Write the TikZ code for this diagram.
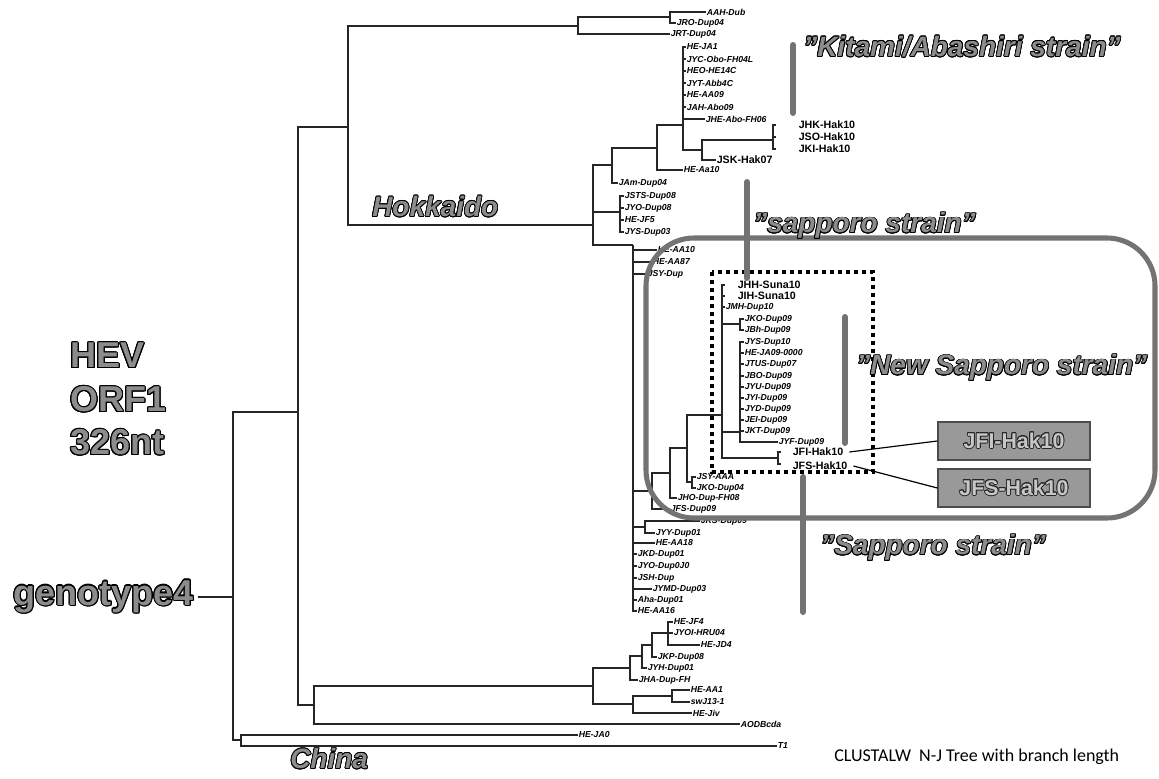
\documentclass[tikz,border=0pt]{standalone}
\usepackage{fontspec}
\setmainfont{Liberation Sans}
\newfontfamily\carlitofont{Carlito}
\usepackage{contour}
\contourlength{0.7pt}
\newcommand{\dq}{\char34\relax}
\newcommand{\tleaf}[5]{\node[#1] (#3) at (#4) {#5}; \draw[br] (#2) |- (#3.west);}
\newcommand{\tedge}[2]{\draw[br] (#1) |- (#2);}
\begin{document}
\begin{tikzpicture}[x=0.75pt,y=-0.75pt,
  br/.style={line width=1.1pt, draw=black!85},
  lf/.style={anchor=west, inner sep=0.4pt, font=\fontsize{6.5}{6.5}\selectfont\bfseries\itshape},
  hk/.style={anchor=west, inner sep=0.4pt, font=\fontsize{8}{8}\selectfont\bfseries},
  big/.style={anchor=west, inner sep=0pt, text=black!45, font=\fontsize{27}{27}\selectfont\bfseries\contourlength{0.8pt}},
  strain/.style={anchor=west, inner sep=0pt, text=black!45, font=\fontsize{21}{21}\selectfont\bfseries\itshape\contourlength{0.6pt}},
  gbar/.style={line width=4.5pt, draw=black!55, line cap=round},
  dotbox/.style={draw=black, line width=3pt, dash pattern=on 3pt off 3pt},
  rbox/.style={draw=black!55, line width=3.8pt, rounded corners=36pt},
  gbox/.style={draw=black!70, fill=black!40, line width=1pt, minimum width=114pt, minimum height=28.5pt, inner sep=0pt, text=black!22, font=\fontsize{16}{16}\selectfont\bfseries\contourlength{0.6pt}},
  conn/.style={line width=0.9pt, draw=black}]
\useasboundingbox (0,0) rectangle (1159,778);

% ---------- big labels ----------
\node[big] (hev) at (70,356) {\contour{black}{HEV}};
\node[big] (orf) at (70,400) {\contour{black}{ORF1}};
\node[big] (nt) at (70,443) {\contour{black}{326nt}};
\node[big, anchor=east, inner sep=3pt] (g4) at (198,597) {\contour{black}{genotype4}};
\node[strain] (hok) at (372,207) {\contour{black}{Hokkaido}};
\node[strain] (chi) at (290,759) {\contour{black}{China}};

% ---------- internal nodes ----------
\coordinate (R0) at (233,597);
\coordinate (N298) at (298,412);
\coordinate (Nb) at (241,740);
\coordinate (Hk) at (348,127);
\coordinate (N314) at (314,705);
\coordinate (Tp) at (578,26);
\coordinate (Tp2) at (670,17);
\coordinate (H1) at (593,225);
\coordinate (K0) at (612,165);
\coordinate (K1) at (657,148);
\coordinate (K2) at (683,125);
\coordinate (K3) at (702,150);
\coordinate (K4) at (773,140);
\coordinate (J0) at (620,212);
\coordinate (S) at (633,245);
\coordinate (Q) at (652,491);
\coordinate (R) at (670,473);
\coordinate (P) at (687,448);
\coordinate (U) at (692,482);
\coordinate (T) at (722,415);
\coordinate (Ta) at (740,324);
\coordinate (Tb) at (740,432);
\coordinate (Tc) at (778,458);
\coordinate (V) at (645,527);
\coordinate (C0) at (593,686);
\coordinate (B) at (630,668);
\coordinate (E) at (642,656);
\coordinate (F) at (652,645);
\coordinate (G) at (668,633);
\coordinate (Cc) at (633,704);
\coordinate (D) at (672,696);

\draw[br] (g4.east) -- (R0);
\tedge{R0}{N298} \tedge{R0}{Nb}
\tedge{N298}{Hk} \tedge{N298}{N314}
\tedge{Hk}{Tp} \tedge{Hk}{H1} \tedge{Tp}{Tp2}
\tedge{H1}{K0} \tedge{H1}{J0} \tedge{H1}{S}
\tedge{K0}{K1} \tedge{K1}{K2} \tedge{K2}{K3} \tedge{K3}{K4}
\tedge{S}{Q} \tedge{Q}{R} \tedge{R}{P} \tedge{P}{T} \tedge{P}{U}
\tedge{T}{Ta} \tedge{T}{Tb} \tedge{T}{Tc} \tedge{S}{V}
\tedge{N314}{C0} \tedge{C0}{B} \tedge{C0}{Cc} \tedge{B}{E} \tedge{E}{F} \tedge{F}{G} \tedge{Cc}{D}

% ---------- leaves ----------
\tleaf{lf}{Nb}{la1}{578,735}{HE-JA0}
\tleaf{lf}{Nb}{la2}{777,746}{T1}
\tleaf{lf}{Tp2}{lb1}{706,12}{AAH-Dub}
\tleaf{lf}{Tp2}{lb2}{676,23}{JRO-Dup04}
\tleaf{lf}{Tp}{lb3}{670,34}{JRT-Dup04}
\foreach \y/\t [count=\i] in {47/HE-JA1,59/JYC-Obo-FH04L,71/HEO-HE14C,83/JYT-Abb4C,95/HE-AA09,107/JAH-Abo09}
  {\tleaf{lf}{K2}{kk\i}{686,\y}{\t}}
\tleaf{lf}{K2}{kk7}{705,119}{JHE-Abo-FH06}
\tleaf{lf}{K1}{kk8}{683,170}{HE-Aa10}
\tleaf{lf}{K0}{kk9}{618,183}{JAm-Dup04}
\tleaf{hk}{K3}{jsk}{716,160}{JSK-Hak07}
\foreach \y [count=\i] in {125,137,149} {\coordinate (k4e\i) at (776,\y); \draw[br] (K4) |- (k4e\i);}
\node[hk] (jhk) at (798,125) {JHK-Hak10};
\node[hk] (jso) at (798,137) {JSO-Hak10};
\node[hk] (jki) at (798,149) {JKI-Hak10};
\foreach \y/\t [count=\i] in {196/JSTS-Dup08,208/JYO-Dup08,220/HE-JF5,232/JYS-Dup03}
  {\tleaf{lf}{J0}{jj\i}{624,\y}{\t}}
\tleaf{lf}{S}{s1}{657,250}{HE-AA10}
\tleaf{lf}{S}{s2}{652,262}{HE-AA87}
\tleaf{lf}{S}{s3}{647,274}{JSY-Dup}
\tleaf{lf}{S}{s4}{655,543}{HE-AA18}
\tleaf{lf}{S}{s5}{637,554}{JKD-Dup01}
\tleaf{lf}{S}{s6}{637,566}{JYO-Dup0J0}
\tleaf{lf}{S}{s7}{637,578}{JSH-Dup}
\tleaf{lf}{S}{s8}{652,589}{JYMD-Dup03}
\tleaf{lf}{S}{s9}{637,600}{Aha-Dup01}
\tleaf{lf}{S}{s10}{637,611}{HE-AA16}
\tleaf{lf}{Q}{q1}{670,509}{JFS-Dup09}
\tleaf{lf}{R}{r1}{677,498}{JHO-Dup-FH08}
\tleaf{lf}{U}{u1}{696,477}{JSY-AAA}
\tleaf{lf}{U}{u2}{696,488}{JKO-Dup04}
\tleaf{lf}{V}{v1}{700,521}{JKS-Dup09}
\tleaf{lf}{V}{v2}{655,533}{JYY-Dup01}
\coordinate (te1) at (725,285); \coordinate (te2) at (725,296);
\draw[br] (T) |- (te1); \draw[br] (T) |- (te2);
\node[hk] (jhh) at (737,285) {JHH-Suna10};
\node[hk] (jih) at (737,296) {JIH-Suna10};
\tleaf{lf}{T}{t3}{725,307}{JMH-Dup10}
\tleaf{lf}{Ta}{ta1}{744,319}{JKO-Dup09}
\tleaf{lf}{Ta}{ta2}{744,330}{JBh-Dup09}
\foreach \y/\t [count=\i] in {342/JYS-Dup10,353/HE-JA09-0000,364/JTUS-Dup07,376/JBO-Dup09,387/JYU-Dup09,398/JYI-Dup09,409/JYD-Dup09,420/JEI-Dup09,431/JKT-Dup09}
  {\tleaf{lf}{Tb}{tb\i}{744,\y}{\t}}
\tleaf{lf}{Tb}{tb10}{778,442}{JYF-Dup09}
\coordinate (tc1) at (781,452); \coordinate (tc2) at (781,464);
\draw[br] (Tc) |- (tc1); \draw[br] (Tc) |- (tc2);
\node[hk] (lfi) at (792,452) {JFI-Hak10};
\node[hk] (lfs) at (792,466) {JFS-Hak10};
\tleaf{lf}{N314}{w1}{740,724}{AODBcda}
\tleaf{lf}{G}{g1}{673,622}{HE-JF4}
\tleaf{lf}{G}{g2}{673,633}{JYOI-HRU04}
\tleaf{lf}{G}{g3}{700,645}{HE-JD4}
\tleaf{lf}{F}{f1}{657,657}{JKP-Dup08}
\tleaf{lf}{E}{e1}{647,668}{JYH-Dup01}
\tleaf{lf}{B}{b1}{638,680}{JHA-Dup-FH}
\tleaf{lf}{D}{d1}{690,690}{HE-AA1}
\tleaf{lf}{D}{d2}{690,702}{swJ13-1}
\tleaf{lf}{Cc}{c1}{692,713}{HE-Jiv}

% ---------- annotations ----------
\draw[dotbox] (712,272) rectangle (873,472);
\draw[rbox] (646,238) rectangle (1155,518);
\draw[gbar] (793,45) -- (793,113);
\draw[gbar] (747,182) -- (747,278);
\draw[gbar] (845,317) -- (845,443);
\draw[gbar] (803,477) -- (803,612);

\node[strain] (kit) at (803,47) {\contour{black}{\dq Kitami/Abashiri strain\dq}};
\node[strain] (sap1) at (753,226) {\contour{black}{\dq sapporo strain\dq}};
\node[strain] (nsap) at (856,368) {\contour{black}{\dq New Sapporo strain\dq}};
\node[strain] (sap2) at (820,548) {\contour{black}{\dq Sapporo strain\dq}};

\node[gbox] (bfi) at (1014,441) {\contour{black!85}{JFI-Hak10}};
\node[gbox] (bfs) at (1014,488) {\contour{black!85}{JFS-Hak10}};
\draw[conn] ([xshift=4pt]lfi.east) -- (bfi.west);
\draw[conn] ([xshift=4pt]lfs.east) -- (bfs.west);

\node[anchor=west, inner sep=0pt, font=\carlitofont\fontsize{13.5}{13.5}\selectfont] (clu) at (834,757) {CLUSTALW\ \ N-J Tree with branch length};
\end{tikzpicture}
\end{document}
